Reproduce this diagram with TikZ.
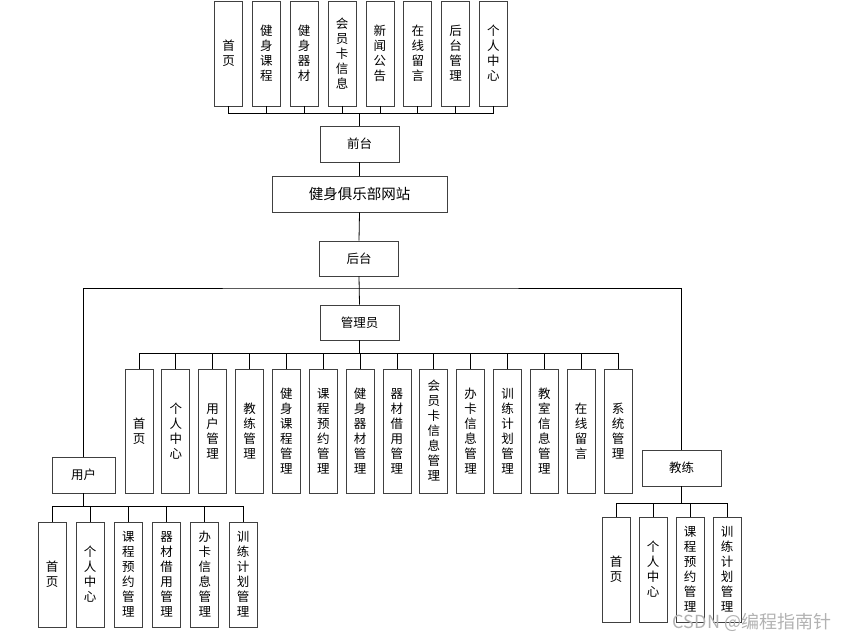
\documentclass[tikz,border=0pt]{standalone}
\usepackage{fontspec}
\newfontfamily\cjk{Noto Sans CJK SC}
\begin{document}
\begin{tikzpicture}[x=1pt, y=-1pt, line width=0.8pt,
  box/.style={draw=black!75, fill=white, inner sep=0pt, font=\cjk\fontsize{12.5}{15}\selectfont},
  hbox/.style={box, minimum width=79pt, minimum height=36pt},
  vbox/.style={box, align=center, minimum width=28pt}]
  \useasboundingbox (0,0) rectangle (853,642);
  % front end
  \foreach \t [count=\i from 0] in {{首\\页},{健\\身\\课\\程},{健\\身\\器\\材},{会\\员\\卡\\信\\息},
      {新\\闻\\公\\告},{在\\线\\留\\言},{后\\台\\管\\理},{个\\人\\中\\心}}
    \node[vbox, minimum height=105pt] (f\i) at (228.5+37.85*\i,53.5) {\t};
  \node[hbox] (qt) at (359.5,144) {前台};
  \node[hbox, minimum width=175pt, font=\cjk\fontsize{14.5}{16}\selectfont] (site) at (359.5,194) {健身俱乐部网站};
  \node[hbox, minimum height=35pt] (ht) at (359,258.5) {后台};
  \node[hbox, minimum height=35pt] (gly) at (359.5,322.5) {管理员};
  \node[hbox, minimum width=63pt] (yh) at (83.5,475) {用户};
  \node[hbox] (jl) at (681.5,468) {教练};
  % admin
  \foreach \t [count=\i from 0] in {{首\\页},{个\\人\\中\\心},{用\\户\\管\\理},{教\\练\\管\\理},
      {健\\身\\课\\程\\管\\理},{课\\程\\预\\约\\管\\理},{健\\身\\器\\材\\管\\理},{器\\材\\借\\用\\管\\理},
      {会\\员\\卡\\信\\息\\管\\理},{办\\卡\\信\\息\\管\\理},{训\\练\\计\\划\\管\\理},{教\\室\\信\\息\\管\\理},
      {在\\线\\留\\言},{系\\统\\管\\理}}
    \node[vbox, minimum height=124pt] (a\i) at (139+36.85*\i,431) {\t};
  % user
  \foreach \t [count=\i from 0] in {{首\\页},{个\\人\\中\\心},{课\\程\\预\\约\\管\\理},
      {器\\材\\借\\用\\管\\理},{办\\卡\\信\\息\\管\\理},{训\\练\\计\\划\\管\\理}}
    \node[vbox, minimum height=105pt] (u\i) at (52+38.2*\i,574.5) {\t};
  % coach
  \foreach \t [count=\i from 0] in {{首\\页},{个\\人\\中\\心},{课\\程\\预\\约\\管\\理},{训\\练\\计\\划\\管\\理}}
    \node[vbox, minimum height=105pt] (c\i) at (616+37*\i,569.5) {\t};
  % connectors
  \foreach \i in {0,...,7}
    \draw (f\i.south) -- ++(0,7) -| (qt.north);
  \draw (qt.south) -- (site.north);
  \draw (site.south) -- (ht.north);
  \draw (ht.south) -- (gly.north);
  \coordinate (split) at (359,288);
  \draw (yh.north) |- (split) -| (jl.north);
  \foreach \i in {0,...,13}
    \draw (gly.south) -- ++(0,13) -| (a\i.north);
  \foreach \i in {0,...,5}
    \draw (yh.south) -- ++(0,13) -| (u\i.north);
  \foreach \i in {0,...,3}
    \draw (jl.south) -- ++(0,17) -| (c\i.north);
  \node[text=black!30, font=\cjk\fontsize{18}{20}\selectfont] (mark) at (752,622) {CSDN @编程指南针};
\end{tikzpicture}
\end{document}
